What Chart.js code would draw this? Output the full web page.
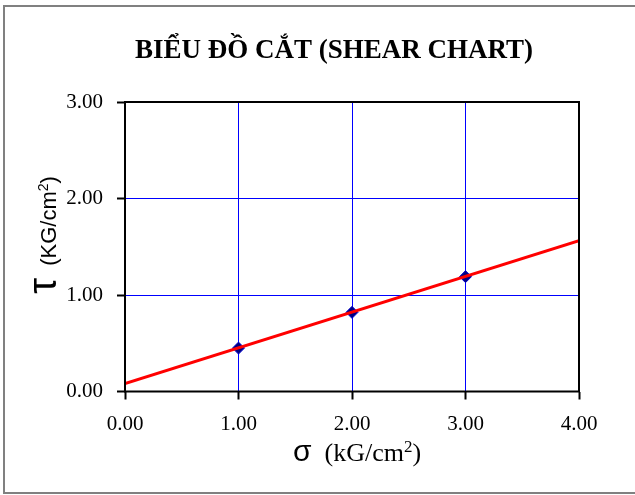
<!DOCTYPE html>
<html lang="vi">
  <head>
    <meta charset="UTF-8" />
    <title>Biểu đồ cắt</title>
    <script src="https://cdn.jsdelivr.net/npm/chart.js"></script>
    <style>
      html, body { margin: 0; padding: 0; background: #fff; }
      #wrap { width: 635px; height: 495px; }
    </style>
  </head>
  <body>
    <div id="wrap"><canvas id="shearChart"></canvas></div>
    <script>
      // measured points (sigma, tau)
      const sigma = [1.0, 2.0, 3.0];
      const tau = [0.45, 0.82, 1.19];
      // fitted line end points
      const lineSigma = [0.0, 4.0];
      const lineTau = [0.083, 1.563];
      const xTicks = [0, 1, 2, 3, 4];
      const yTicks = [0, 1, 2, 3];

      const serif = "'Liberation Serif', 'Times New Roman', serif";
      const sans = "'Liberation Sans', Arial, sans-serif";

      // draws a list of [text, font, raise] pieces in a row, centred on cx
      function drawPieces(ctx, pieces, cx, baseY) {
        let total = 0;
        pieces.forEach((p) => { ctx.font = p[1]; total += ctx.measureText(p[0]).width; });
        let x = cx - total / 2;
        pieces.forEach((p) => {
          ctx.font = p[1];
          ctx.fillText(p[0], x, baseY - (p[2] || 0));
          x += ctx.measureText(p[0]).width;
        });
      }

      // frame, plot box and titles drawn over the chart
      const decor = {
        id: "decor",
        afterDraw(chart) {
          const ctx = chart.ctx;
          const a = chart.chartArea;
          ctx.save();
          // outer grey frame
          ctx.strokeStyle = "#808080";
          ctx.lineWidth = 2;
          ctx.strokeRect(4, 6, 640, 487);
          // plot box
          ctx.strokeStyle = "#000";
          ctx.lineWidth = 2;
          ctx.strokeRect(a.left, a.top, a.right - a.left, a.bottom - a.top);

          ctx.fillStyle = "#000";
          // title
          ctx.font = "bold 27px " + serif;
          ctx.textAlign = "center";
          ctx.textBaseline = "middle";
          ctx.fillText("BIỂU ĐỒ CẮT (SHEAR CHART)", 334, 51);

          // x title: sigma (kG/cm2)
          ctx.textBaseline = "alphabetic";
          ctx.textAlign = "left";
          drawPieces(ctx, [
            ["σ", "30px " + sans],
            ["  (kG/cm", "26px " + serif],
            ["2", "17px " + serif, 9],
            [")", "26px " + serif],
          ], 357, 461);

          // y title: tau (KG/cm2), rotated
          ctx.translate(56, 235);
          ctx.rotate(-Math.PI / 2);
          drawPieces(ctx, [
            ["τ", "40px " + sans],
            ["  (KG/cm", "22px " + sans],
            ["2", "14px " + sans, 8],
            [")", "22px " + sans],
          ], 0, 0);
          ctx.restore();
        },
      };

      new Chart(document.getElementById("shearChart"), {
        type: "scatter",
        data: {
          datasets: [
            {
              type: "line",
              label: "Đường cắt",
              data: lineSigma.map((x, i) => ({ x: x, y: lineTau[i] })),
              borderColor: "#ff0000",
              borderWidth: 3,
              pointRadius: 0,
              fill: false,
            },
            {
              label: "Thí nghiệm",
              data: sigma.map((x, i) => ({ x: x, y: tau[i] })),
              pointStyle: "rectRot",
              pointRadius: 6,
              backgroundColor: "#000080",
              borderColor: "#0000cc",
              borderWidth: 1,
            },
          ],
        },
        options: {
          responsive: true,
          maintainAspectRatio: false,
          animation: false,
          layout: { padding: { top: 102, right: 56, left: 0, bottom: 0 } },
          plugins: {
            legend: { display: false },
            title: { display: false },
            tooltip: { enabled: false },
          },
          scales: {
            x: {
              type: "linear",
              min: 0,
              max: 4,
              afterBuildTicks: (s) => { s.ticks = xTicks.map((v) => ({ value: v })); },
              afterFit: (s) => { s.height = 103.5; },
              ticks: {
                callback: (v) => v.toFixed(2),
                font: { family: serif, size: 21 },
                color: "#000",
                padding: 12,
                maxRotation: 0,
              },
              grid: { color: "#0000ff", lineWidth: 1, tickLength: 8, tickColor: "#000", tickWidth: 2 },
              border: { display: false },
            },
            y: {
              min: 0,
              max: 3,
              afterBuildTicks: (s) => { s.ticks = yTicks.map((v) => ({ value: v })); },
              afterFit: (s) => { s.width = 125; },
              ticks: {
                callback: (v) => v.toFixed(2),
                font: { family: serif, size: 21 },
                color: "#000",
                padding: 14,
              },
              grid: { color: "#0000ff", lineWidth: 1, tickLength: 8, tickColor: "#000", tickWidth: 2 },
              border: { display: false },
            },
          },
        },
        plugins: [decor],
      });
    </script>
  </body>
</html>
